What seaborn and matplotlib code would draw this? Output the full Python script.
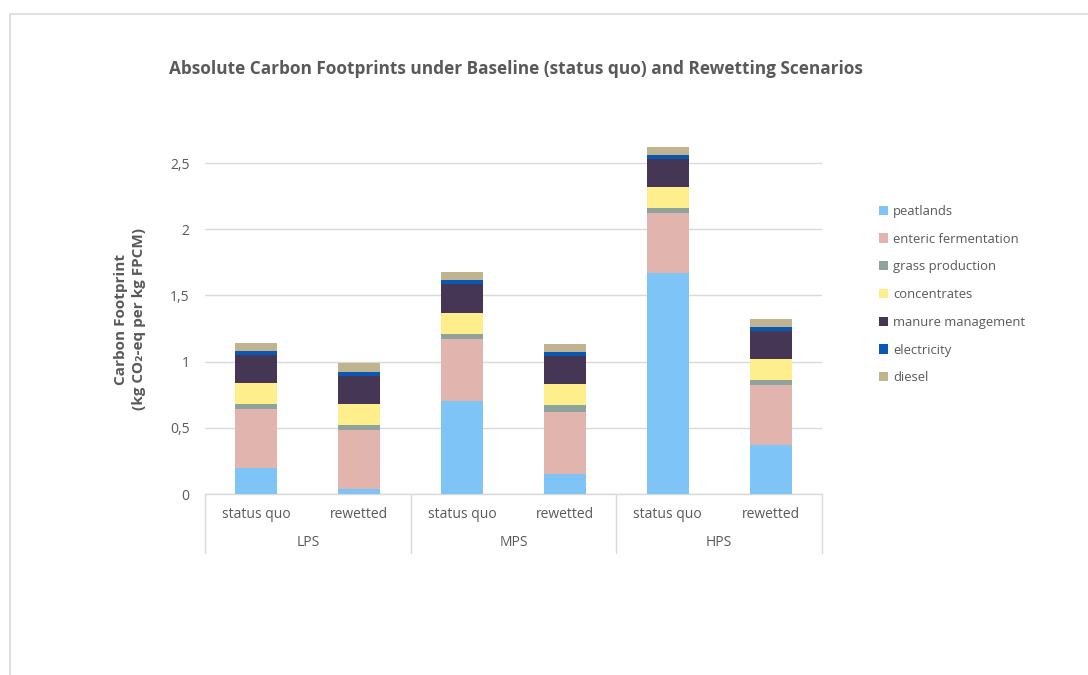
import numpy as np
import pandas as pd
import matplotlib
matplotlib.use("Agg")
import matplotlib.pyplot as plt
import matplotlib.transforms as mtransforms
from matplotlib.patches import Patch, Rectangle
import seaborn as sns

# data (kg CO2-eq per kg FPCM)
systems = ["LPS", "MPS", "HPS"]
scenarios = ["status quo", "rewetted"]
components = ["peatlands", "enteric fermentation", "grass production",
              "concentrates", "manure management", "electricity", "diesel"]

peatlands = [0.20, 0.04, 0.70, 0.15, 1.67, 0.37]
enteric_fermentation = [0.44, 0.44, 0.47, 0.47, 0.45, 0.45]
grass_production = [0.04, 0.04, 0.04, 0.05, 0.04, 0.04]
concentrates = [0.16, 0.16, 0.16, 0.16, 0.16, 0.16]
manure_management = [0.21, 0.21, 0.22, 0.21, 0.21, 0.21]
electricity = [0.03, 0.03, 0.03, 0.03, 0.03, 0.03]
diesel = [0.06, 0.07, 0.06, 0.06, 0.06, 0.06]

colors = ["#7FC4F6", "#E1B4AE", "#8DA39B", "#FFEE8C", "#463656", "#0A58B2", "#BFB48F"]

series = [peatlands, enteric_fermentation, grass_production, concentrates,
          manure_management, electricity, diesel]

bars = [f"{s}|{sc}" for s in systems for sc in scenarios]
df = pd.DataFrame(np.array(series).T, columns=components)
df["bar"] = bars
cum = df[components].cumsum(axis=1)
cum["bar"] = bars

sns.set_theme(style="white")
plt.rcParams["font.family"] = ["Open Sans", "DejaVu Sans"]
text_col = "#595959"
grid_col = "#D9D9D9"

fig = plt.figure(figsize=(10.88, 6.75), dpi=100)
ax = fig.add_axes([205 / 1088, 1 - 494 / 675, 617 / 1088, 364 / 675])

# stacked bars: draw cumulative totals from top component down
for comp, col in reversed(list(zip(components, colors))):
    sns.barplot(data=cum, x="bar", y=comp, order=bars, color=col,
                width=0.41, saturation=1, linewidth=0, ax=ax, zorder=3)

ax.set_xlim(-0.5, 5.5)
ax.set_ylim(0, 2.75)
ax.set_yticks([0, 0.5, 1, 1.5, 2, 2.5])
ax.set_yticklabels(["0", "0,5", "1", "1,5", "2", "2,5"], color=text_col, fontsize=10)
ax.tick_params(axis="y", length=0, pad=11)
ax.set_xticks([])
ax.set_xlabel("")
ax.set_ylabel("")
ax.yaxis.grid(True, color=grid_col, linewidth=1, zorder=0)
ax.set_axisbelow(True)
for sp in ["top", "right", "left"]:
    ax.spines[sp].set_visible(False)
ax.spines["bottom"].set_color(grid_col)
ax.spines["bottom"].set_linewidth(1)

# multi-level category axis
trans = mtransforms.blended_transform_factory(ax.transData, ax.transAxes)
depth = (553 - 494) / 364
for i, b in enumerate(bars):
    sys_name, scen = b.split("|")
    ax.text(i, -20 / 364, scen, transform=trans, ha="center", va="center",
            fontsize=10, color=text_col)
for j, s in enumerate(systems):
    ax.text(2 * j + 0.5, -49 / 364, s, transform=trans, ha="center", va="center",
            fontsize=10, color=text_col)
for xd in [-0.5, 1.5, 3.5, 5.5]:
    ax.plot([xd, xd], [0, -depth], transform=trans, color=grid_col,
            linewidth=1, clip_on=False)

# title and axis label
fig.text(516 / 1088, 1 - 69 / 675,
         "Absolute Carbon Footprints under Baseline (status quo) and Rewetting Scenarios",
         ha="center", va="center", fontsize=12.4, fontweight="bold", color=text_col)
fig.text(130 / 1088, 1 - 319 / 675, "Carbon Footprint\n(kg CO₂-eq per kg FPCM)",
         ha="center", va="center", rotation=90, fontsize=11, fontweight="bold",
         color=text_col, linespacing=1.3)

# legend
handles = [Patch(facecolor=c, edgecolor="none", label=n) for n, c in zip(components, colors)]
fig.legend(handles=handles, loc="upper left", bbox_to_anchor=(867 / 1088, 1 - 193 / 675),
           frameon=False, fontsize=9.4, labelcolor=text_col, handlelength=0.7,
           handleheight=0.7, handletextpad=0.4, labelspacing=1.13)

# chart area border (top and left visible)
fig.patches.append(Rectangle((10 / 1088, -0.1), 1.2, 1 - 14 / 675 + 0.1,
                             transform=fig.transFigure, fill=False,
                             edgecolor="#D9D9D9", linewidth=1.2))

fig.savefig("out.png", dpi=100, facecolor="white")
